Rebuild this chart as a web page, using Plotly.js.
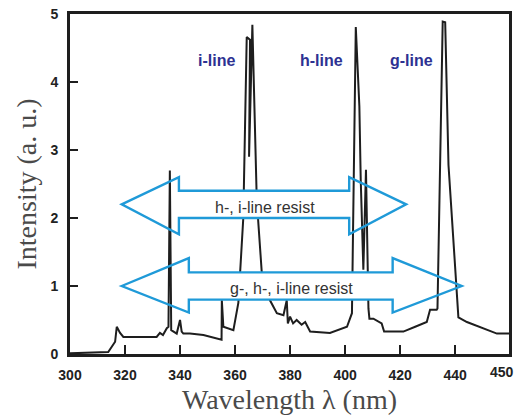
<!DOCTYPE html>
<html>
<head>
<meta charset="utf-8">
<script src="https://cdn.plot.ly/plotly-3.0.1.min.js"></script>
<style>
  html, body { margin: 0; padding: 0; background: #fff; }
  #chart { width: 523px; height: 415px; }
</style>
</head>
<body>
<div id="chart"></div>
<script>
// Mercury lamp emission spectrum (wavelength in nm, intensity in a.u.)
const wavelength = [
  300, 313.9, 316.4, 317.0, 318.2, 319.4, 331.5, 332.7, 333.8, 335.2,
  335.8, 336.3, 336.8, 338.8, 340.0, 340.6, 341.2, 343.6, 348.5, 355.1,
  355.2, 355.75, 359.4, 361.2, 363.0, 364.25, 365.45, 365.1, 366.3, 367.9,
  369.7, 372.7, 375.2, 377.6, 378.8, 379.2, 380.0, 381.1, 382.4, 384.2,
  385.5, 387.3, 394.5, 400.7, 402.5, 403.9, 405.2, 405.7, 406.65, 407.6,
  408.5, 408.85, 410.3, 413.3, 414.2, 421.2, 425.5, 429.7, 430.9, 433.3,
  433.6, 435.5, 436.4, 437.0, 437.6, 441.2, 444.3, 455.2, 459.6
];
const intensity = [
  0.01, 0.03, 0.18, 0.40, 0.31, 0.25, 0.25, 0.31, 0.28, 0.38,
  0.40, 2.70, 0.35, 0.30, 0.50, 0.33, 0.30, 0.30, 0.28, 0.21,
  0.79, 0.40, 0.35, 0.75, 2.00, 4.66, 4.62, 2.90, 4.84, 2.26,
  1.21, 0.79, 0.60, 0.57, 0.79, 0.45, 0.55, 0.45, 0.50, 0.43,
  0.47, 0.33, 0.31, 0.40, 0.60, 4.81, 3.64, 2.56, 1.24, 2.71,
  0.67, 0.52, 0.52, 0.45, 0.33, 0.33, 0.40, 0.47, 0.65, 0.65,
  0.67, 4.89, 4.88, 3.88, 2.78, 0.54, 0.47, 0.30, 0.30
];

// Axis ticks
const xTickVals = [300, 320, 340, 360, 380, 400, 420, 440];
const xTickText = ['300', '320', '340', '360', '380', '400', '420', '440'];
const xEndLabel = '450';
const yTickVals = [0, 1, 2, 3, 4, 5];

// Emission line names and resist ranges
const lineNames = ['i-line', 'h-line', 'g-line'];
const resistLabels = ['h-, i-line resist', 'g-, h-, i-line resist'];

const X_MAX = 459.6;
const ink = '#1e1e1e';
const arrowBlue = '#1f9ad8';

// Double-headed arrow: white shaft, open heads, blue outline (data coordinates)
function doubleArrow(x0, x1, headL, headR, yc, bodyHalf, headTop, headBot) {
  const p = [
    [x0, yc], [headL, yc + headTop], [headL, yc + bodyHalf],
    [headR, yc + bodyHalf], [headR, yc + headTop], [x1, yc],
    [headR, yc - headBot], [headR, yc - bodyHalf],
    [headL, yc - bodyHalf], [headL, yc - headBot]
  ];
  const shaft = {
    type: 'rect', xref: 'x', yref: 'y', layer: 'above',
    x0: headL, x1: headR, y0: yc - bodyHalf, y1: yc + bodyHalf,
    line: { width: 0 }, fillcolor: '#ffffff'
  };
  const outline = {
    type: 'path', xref: 'x', yref: 'y', layer: 'above',
    path: 'M ' + p.map(q => q[0] + ',' + q[1]).join(' L ') + ' Z',
    line: { color: arrowBlue, width: 2.4 },
    fillcolor: 'rgba(0,0,0,0)'
  };
  return [shaft, outline];
}

const trace = {
  x: wavelength, y: intensity, type: 'scatter', mode: 'lines',
  line: { color: ink, width: 2 }, hoverinfo: 'skip', showlegend: false
};

const sans = 'Liberation Sans, Arial, sans-serif';
const serif = 'Liberation Serif, Times New Roman, serif';

const lineLabelX = [353.1, 391.3, 424.0];
const annotations = lineNames.map((t, i) => ({
  x: lineLabelX[i], y: 4.32, xref: 'x', yref: 'y', text: t, showarrow: false,
  font: { family: sans, size: 16, color: '#2d3192', weight: 'bold' }
}));
annotations.push({
  x: 370.9, y: 2.16, xref: 'x', yref: 'y', text: resistLabels[0], showarrow: false,
  font: { family: sans, size: 16, color: '#333' }
});
annotations.push({
  x: 380.5, y: 0.97, xref: 'x', yref: 'y', text: resistLabels[1], showarrow: false,
  font: { family: sans, size: 16, color: '#333' }
});
annotations.push({
  x: 457.1, y: -0.053, xref: 'x', yref: 'paper', yanchor: 'middle', text: xEndLabel, showarrow: false,
  font: { family: sans, size: 14, color: '#222', weight: 'bold' }
});

const layout = {
  width: 523, height: 415,
  margin: { l: 70, r: 14, t: 14, b: 61 },
  paper_bgcolor: '#fff', plot_bgcolor: '#fff',
  showlegend: false,
  xaxis: {
    range: [300, X_MAX], tickvals: xTickVals, ticktext: xTickText,
    ticks: 'inside', ticklen: 9, tickwidth: 2.5, tickcolor: ink,
    showline: true, linewidth: 3, linecolor: ink, mirror: true,
    showgrid: false, zeroline: false, ticklabelstandoff: 6,
    tickfont: { family: sans, size: 14, color: '#222', weight: 'bold' },
    title: { text: 'Wavelength λ (nm)', standoff: 9,
      font: { family: serif, size: 28, color: '#4a4a4a' } }
  },
  yaxis: {
    range: [0, 5], tickvals: yTickVals,
    ticks: 'inside', ticklen: 8, tickwidth: 2.5, tickcolor: ink,
    showline: true, linewidth: 3, linecolor: ink, mirror: true,
    showgrid: false, zeroline: false, ticklabelstandoff: 6,
    tickfont: { family: sans, size: 14, color: '#222', weight: 'bold' },
    title: { text: 'Intensity (a. u.)', standoff: 6,
      font: { family: serif, size: 28, color: '#4a4a4a' } }
  },
  shapes: [].concat(
    doubleArrow(318.8, 422.2, 339.6, 401.5, 2.20, 0.20, 0.40, 0.44),
    doubleArrow(318.8, 442.4, 343.2, 417.3, 1.00, 0.20, 0.41, 0.39)
  ),
  annotations: annotations
};

Plotly.newPlot('chart', [trace], layout, { staticPlot: true, displayModeBar: false });
</script>
</body>
</html>
